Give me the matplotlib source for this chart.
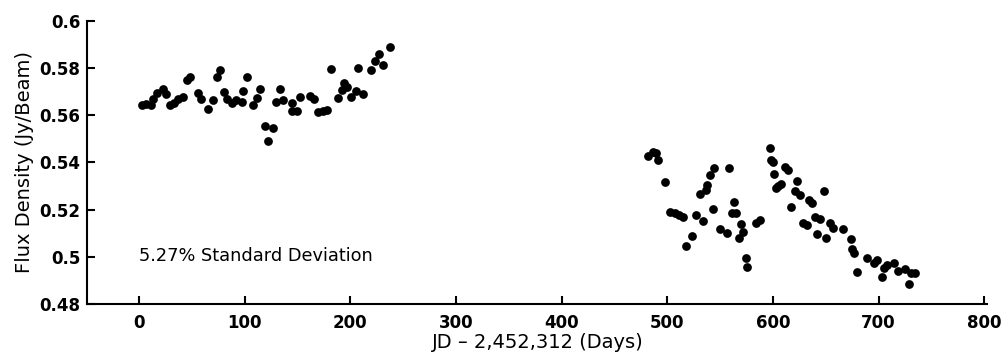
"""Flux density light curve with the 5.27% standard deviation note."""

import matplotlib
matplotlib.use("Agg")
import matplotlib.pyplot as plt

plt.rcParams.update({"font.family": "DejaVu Sans"})

# first observing season (days, Jy/beam)
days_a = [3, 7, 11, 13.3, 17.4, 22.7, 25.9, 29, 33, 37, 41.7, 45, 48, 55.9, 59,
          65.3, 70, 73.3, 77, 80.2, 82.8, 87.5, 92.2, 97, 98.5, 102.3, 108,
          111.2, 114.3, 119, 122.2, 126.3, 130, 133.2, 136.4, 144.3, 145, 149.6,
          152.8, 162, 166, 169.5, 174.2, 178, 181.5, 188.4, 191.7, 193.8, 196.4,
          200.2, 205.2, 207.4, 212, 220, 223.2, 227.3, 231, 237.4]
flux_a = [0.5645, 0.5648, 0.5645, 0.5667, 0.5692, 0.5712, 0.5688, 0.5643, 0.5650,
          0.5667, 0.5676, 0.5750, 0.5763, 0.5692, 0.5667, 0.5625, 0.5664, 0.5763,
          0.5791, 0.5697, 0.5667, 0.5650, 0.5664, 0.5657, 0.5703, 0.5763, 0.5643,
          0.5671, 0.5709, 0.5554, 0.5492, 0.5544, 0.5657, 0.5709, 0.5664, 0.5619,
          0.5653, 0.5619, 0.5678, 0.5683, 0.5669, 0.5615, 0.5619, 0.5622, 0.5794,
          0.5671, 0.5706, 0.5737, 0.5720, 0.5678, 0.5703, 0.5798, 0.5690, 0.5791,
          0.5831, 0.5859, 0.5812, 0.5887]

# second observing season
days_b = [482, 486.7, 489, 491.5, 497.8, 502.6, 507.4, 511.4, 514.6, 518, 523,
          527, 531, 534, 536.6, 538, 540.4, 543.6, 544.2, 550, 556.2, 558.7, 561,
          563, 565, 568, 569.5, 572, 574.5, 575.8, 584, 588, 597, 598, 600, 601,
          603, 605, 608, 611, 614, 617, 621, 623, 626, 628.8, 632, 634, 637, 640,
          642, 645, 648, 650.3, 654, 656.6, 666, 673.7, 674.6, 676.8, 679.3,
          689.4, 695.7, 698.9, 703, 705.2, 707.8, 714.7, 718.7, 725, 729.2, 731,
          734.5]
flux_b = [0.5427, 0.5445, 0.5440, 0.5410, 0.5318, 0.5191, 0.5184, 0.5177, 0.5167,
          0.5046, 0.5088, 0.5177, 0.5266, 0.5153, 0.5283, 0.5304, 0.5346, 0.5202,
          0.5375, 0.5117, 0.5100, 0.5377, 0.5187, 0.5233, 0.5187, 0.5078, 0.5139,
          0.5106, 0.4996, 0.4958, 0.5142, 0.5155, 0.5460, 0.5410, 0.5400, 0.5350,
          0.5290, 0.5300, 0.5310, 0.5380, 0.5370, 0.5210, 0.5280, 0.5320, 0.5260,
          0.5142, 0.5135, 0.5240, 0.5230, 0.5170, 0.5096, 0.5160, 0.5280, 0.5082,
          0.5142, 0.5121, 0.5117, 0.5074, 0.5032, 0.5017, 0.4937, 0.4994, 0.4972,
          0.4987, 0.4913, 0.4951, 0.4965, 0.4972, 0.4941, 0.4947, 0.4883, 0.4932,
          0.4930]

x_ticks = [0, 100, 200, 300, 400, 500, 600, 700, 800]
y_ticks = [0.48, 0.5, 0.52, 0.54, 0.56, 0.58, 0.6]
y_labels = ["0.48", "0.5", "0.52", "0.54", "0.56", "0.58", "0.6"]


def main():
    fig = plt.figure(figsize=(10.05, 3.62), dpi=100)
    ax = fig.add_axes([0.0869, 0.160, 0.8955, 0.7826])

    ax.plot(days_a + days_b, flux_a + flux_b, "o", color="black", ms=6.3, mec="none")

    ax.set_xlim(-49, 803)
    ax.set_ylim(0.48, 0.6)
    ax.set_xticks(x_ticks)
    ax.set_yticks(y_ticks)
    ax.set_yticklabels(y_labels)
    for lab in ax.get_xticklabels() + ax.get_yticklabels():
        lab.set_fontweight("bold")
        lab.set_fontsize(12)
    ax.tick_params(axis="x", direction="in", length=6, width=1.5, pad=7)
    ax.tick_params(axis="y", direction="in", length=6, width=1.5, pad=5)

    for side in ("top", "right"):
        ax.spines[side].set_visible(False)
    for side in ("left", "bottom"):
        ax.spines[side].set_linewidth(1.5)

    ax.set_xlabel("JD \u2013 2,452,312 (Days)", fontsize=14, labelpad=1)
    ax.set_ylabel("Flux Density (Jy/Beam)", fontsize=14, labelpad=4)
    ax.text(0, 0.5003, "5.27% Standard Deviation", fontsize=12.8, va="center", ha="left")

    fig.savefig("out.png", dpi=100)


if __name__ == "__main__":
    main()
